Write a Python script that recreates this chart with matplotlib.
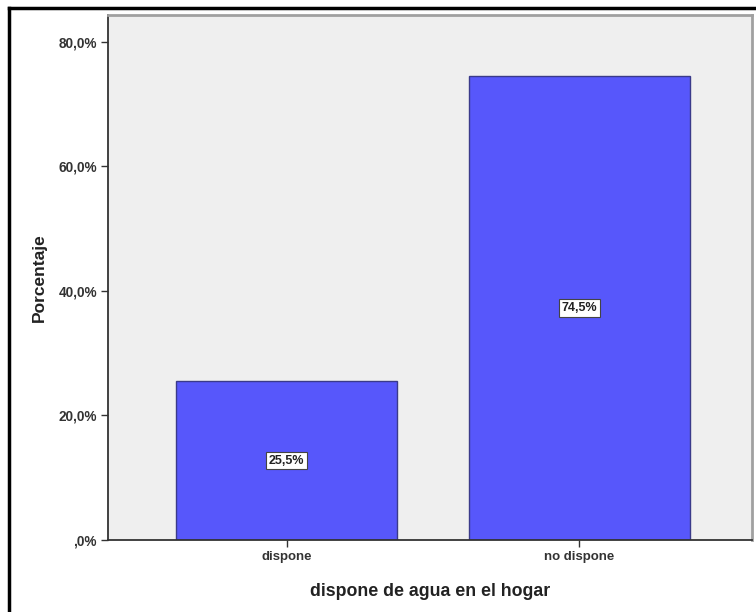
import matplotlib
matplotlib.use("Agg")
import matplotlib.pyplot as plt
from matplotlib.lines import Line2D

categories = ["dispone", "no dispone"]
porcentajes = [25.5, 74.5]
yticks = [0, 20, 40, 60, 80]
ytick_labels = [",0%", "20,0%", "40,0%", "60,0%", "80,0%"]

plt.rcParams['font.family'] = ['Liberation Sans', 'DejaVu Sans']

fig = plt.figure(figsize=(7.56, 6.12), dpi=100)
ax = fig.add_axes([108/756, 1 - 540/612, 644/756, 525/612])
ax.set_facecolor("#efefef")

x = range(len(categories))
bars = ax.bar(x, porcentajes, width=0.755, color="#5757fb", edgecolor="#3a3a8a", linewidth=1.0, zorder=2)

for b, v in zip(bars, porcentajes):
    ax.text(b.get_x() + b.get_width() / 2, v / 2, f"{v:.1f}%".replace(".", ","),
            ha="center", va="center", fontsize=9, fontweight="bold", color="#222222",
            bbox=dict(boxstyle="square,pad=0.22", fc="white", ec="#444444", lw=0.8), zorder=3)

ax.set_xlim(-0.61, 1.59)
ax.set_ylim(0, 84.3)
ax.set_xticks(list(x))
ax.set_xticklabels(categories, fontsize=9.5, fontweight="bold", color="#333333")
ax.set_yticks(yticks)
ax.set_yticklabels(ytick_labels, fontsize=9.8, fontweight="bold", color="#333333")
ax.tick_params(axis="both", direction="out", length=5, width=1, color="#333333", pad=3)

ax.set_ylabel("Porcentaje", fontsize=12.5, fontweight="bold", color="#222222", labelpad=8)
ax.set_xlabel("dispone de agua en el hogar", fontsize=12.8, fontweight="bold", color="#222222", labelpad=14)

for s in ["left", "bottom"]:
    ax.spines[s].set_color("#333333")
    ax.spines[s].set_linewidth(1.3)
for s in ["top", "right"]:
    ax.spines[s].set_color("#a0a0a0")
    ax.spines[s].set_linewidth(2)

# outer frame of the exported chart (right/bottom edges fall outside the image)
fig.add_artist(Line2D([9/756, 1.0], [1 - 8/612, 1 - 8/612], color="black", lw=2.5))
fig.add_artist(Line2D([9/756, 9/756], [0.0, 1 - 8/612], color="black", lw=2.5))

fig.savefig("out.png", dpi=100)
